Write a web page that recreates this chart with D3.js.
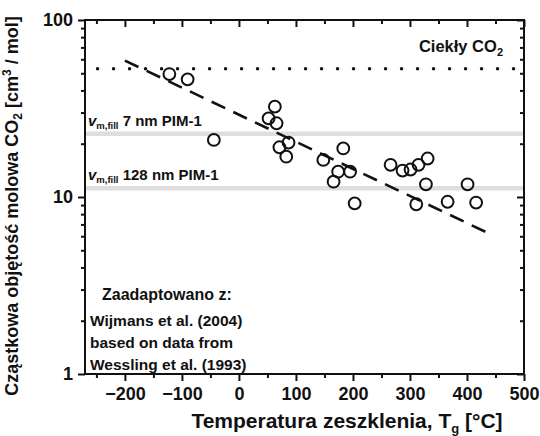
<!DOCTYPE html>
<html><head><meta charset="utf-8">
<script src="https://cdn.jsdelivr.net/npm/d3@7"></script>
<style>body{margin:0;background:#fff}svg{display:block}text{font-family:"Liberation Sans",Arial,sans-serif;font-weight:bold;fill:#111}</style>
</head><body>
<script>
// Data
const xTicks = [-200,-100,0,100,200,300,400,500];
const yTicks = [1,10,100];
const tg = [-122,-90,-44,63,52,66,71,87,83,148,183,166,174,195,203,266,287,301,315,331,328,311,366,401,416];
const vm = [49.5,46.2,21.0,32.4,27.8,26.1,19.1,20.3,16.9,16.2,18.8,12.2,13.9,13.9,9.2,15.2,14.1,14.3,15.2,16.5,11.8,9.1,9.4,11.8,9.3];
const fitX = [-200,435];
const fitY = [59,6.3];
const liquidCO2 = 53;
const pimLines = [22.8,11.2];
const pimLabels = ["7 nm PIM-1","128 nm PIM-1"];
const refLines = ["Wijmans et al. (2004)","based on data from","Wessling et al. (1993)"];

(function(){
const W=540,H=436;
const m={l:85,r:524,t:20,b:374};
const svg=d3.select("body").append("svg").attr("width",W).attr("height",H);
const x=d3.scaleLinear().domain([-270,500]).range([m.l,m.r]);
const y=d3.scaleLog().domain([1,100]).range([m.b,m.t]);

svg.selectAll(".pim").data(pimLines).enter().append("line")
  .attr("x1",m.l).attr("x2",m.r).attr("y1",d=>y(d)).attr("y2",d=>y(d))
  .attr("stroke","#dedede").attr("stroke-width",4.5);

svg.append("line").attr("x1",x(-248)).attr("x2",m.r).attr("y1",y(liquidCO2)).attr("y2",y(liquidCO2))
  .attr("stroke","#111").attr("stroke-width",3.5).attr("stroke-linecap","round").attr("stroke-dasharray","0 16");

svg.append("line").attr("x1",x(fitX[0])).attr("y1",y(fitY[0])).attr("x2",x(fitX[1])).attr("y2",y(fitY[1]))
  .attr("stroke","#111").attr("stroke-width",2.6).attr("stroke-dasharray","15 9");

svg.selectAll(".pt").data(tg).enter().append("circle")
  .attr("cx",d=>x(d)).attr("cy",(d,i)=>y(vm[i])).attr("r",5.9)
  .attr("fill","none").attr("stroke","#111").attr("stroke-width",2);

const minorX=d3.range(-250,501,100);
const minorY=[];[1,10].forEach(b=>{for(let k=2;k<=9;k++)minorY.push(b*k);});
const gBottom=svg.append("g").attr("transform",`translate(0,${m.b})`)
  .call(d3.axisBottom(x).tickValues(xTicks).tickSize(7).tickFormat(d3.format("d")));
svg.append("g").attr("transform",`translate(0,${m.b})`)
  .call(d3.axisBottom(x).tickValues(minorX).tickSize(4).tickFormat(""));
svg.append("g").attr("transform",`translate(0,${m.t})`)
  .call(d3.axisBottom(x).tickValues(xTicks).tickSize(7).tickFormat(""));
svg.append("g").attr("transform",`translate(0,${m.t})`)
  .call(d3.axisBottom(x).tickValues(minorX).tickSize(4).tickFormat(""));
const gLeft=svg.append("g").attr("transform",`translate(${m.l},0)`)
  .call(d3.axisLeft(y).tickValues(yTicks).tickSize(7).tickFormat(d3.format("d")));
svg.append("g").attr("transform",`translate(${m.l},0)`)
  .call(d3.axisLeft(y).tickValues(minorY).tickSize(4).tickFormat(""));
svg.append("g").attr("transform",`translate(${m.r},0)`)
  .call(d3.axisLeft(y).tickValues(yTicks).tickSize(7).tickFormat(""));
svg.append("g").attr("transform",`translate(${m.r},0)`)
  .call(d3.axisLeft(y).tickValues(minorY).tickSize(4).tickFormat(""));
svg.selectAll(".domain").remove();
svg.selectAll(".tick line").attr("stroke","#111").attr("stroke-width",2);
gBottom.selectAll("text").attr("font-size",18).attr("dy","0.71em").attr("y",13);
gLeft.selectAll("text").attr("font-size",18).attr("x",-12);
svg.selectAll("g").attr("font-family",null);

svg.append("rect").attr("x",m.l).attr("y",m.t).attr("width",m.r-m.l).attr("height",m.b-m.t)
  .attr("fill","none").attr("stroke","#111").attr("stroke-width",2);

const t1=svg.append("text").attr("x",503).attr("y",52).attr("text-anchor","end").attr("font-size",16.5);
t1.append("tspan").text("Ciekły CO");
t1.append("tspan").attr("font-size",11).attr("dy",4).text("2");

pimLines.forEach((v,i)=>{
  const t=svg.append("text").attr("x",88).attr("y",y(v)-8).attr("font-size",15);
  t.append("tspan").attr("font-style","italic").text("v");
  t.append("tspan").attr("font-size",9.5).attr("dy",3).text("m,fill");
  t.append("tspan").attr("dy",-3).text(" "+pimLabels[i]);
});

svg.append("text").attr("x",102).attr("y",300).attr("font-size",16).text("Zaadaptowano z:");
svg.selectAll(".ref").data(refLines).enter().append("text")
  .attr("x",90).attr("y",(d,i)=>326+i*21.8).attr("font-size",15.5).text(d=>d);

const xt=svg.append("text").attr("x",347).attr("y",428).attr("text-anchor","middle").attr("font-size",21);
xt.append("tspan").text("Temperatura zeszklenia, T");
xt.append("tspan").attr("font-size",13).attr("dy",5).text("g");
xt.append("tspan").attr("dy",-5).text(" [°C]");

const yt=svg.append("text").attr("transform","translate(18,206) rotate(-90)").attr("text-anchor","middle").attr("font-size",18);
yt.append("tspan").text("Cząstkowa objętość molowa CO");
yt.append("tspan").attr("font-size",12).attr("dy",4).text("2");
yt.append("tspan").attr("dy",-4).text(" [cm");
yt.append("tspan").attr("font-size",12).attr("dy",-7).text("3");
yt.append("tspan").attr("dy",7).text(" / mol]");
})();
</script>
</body></html>
